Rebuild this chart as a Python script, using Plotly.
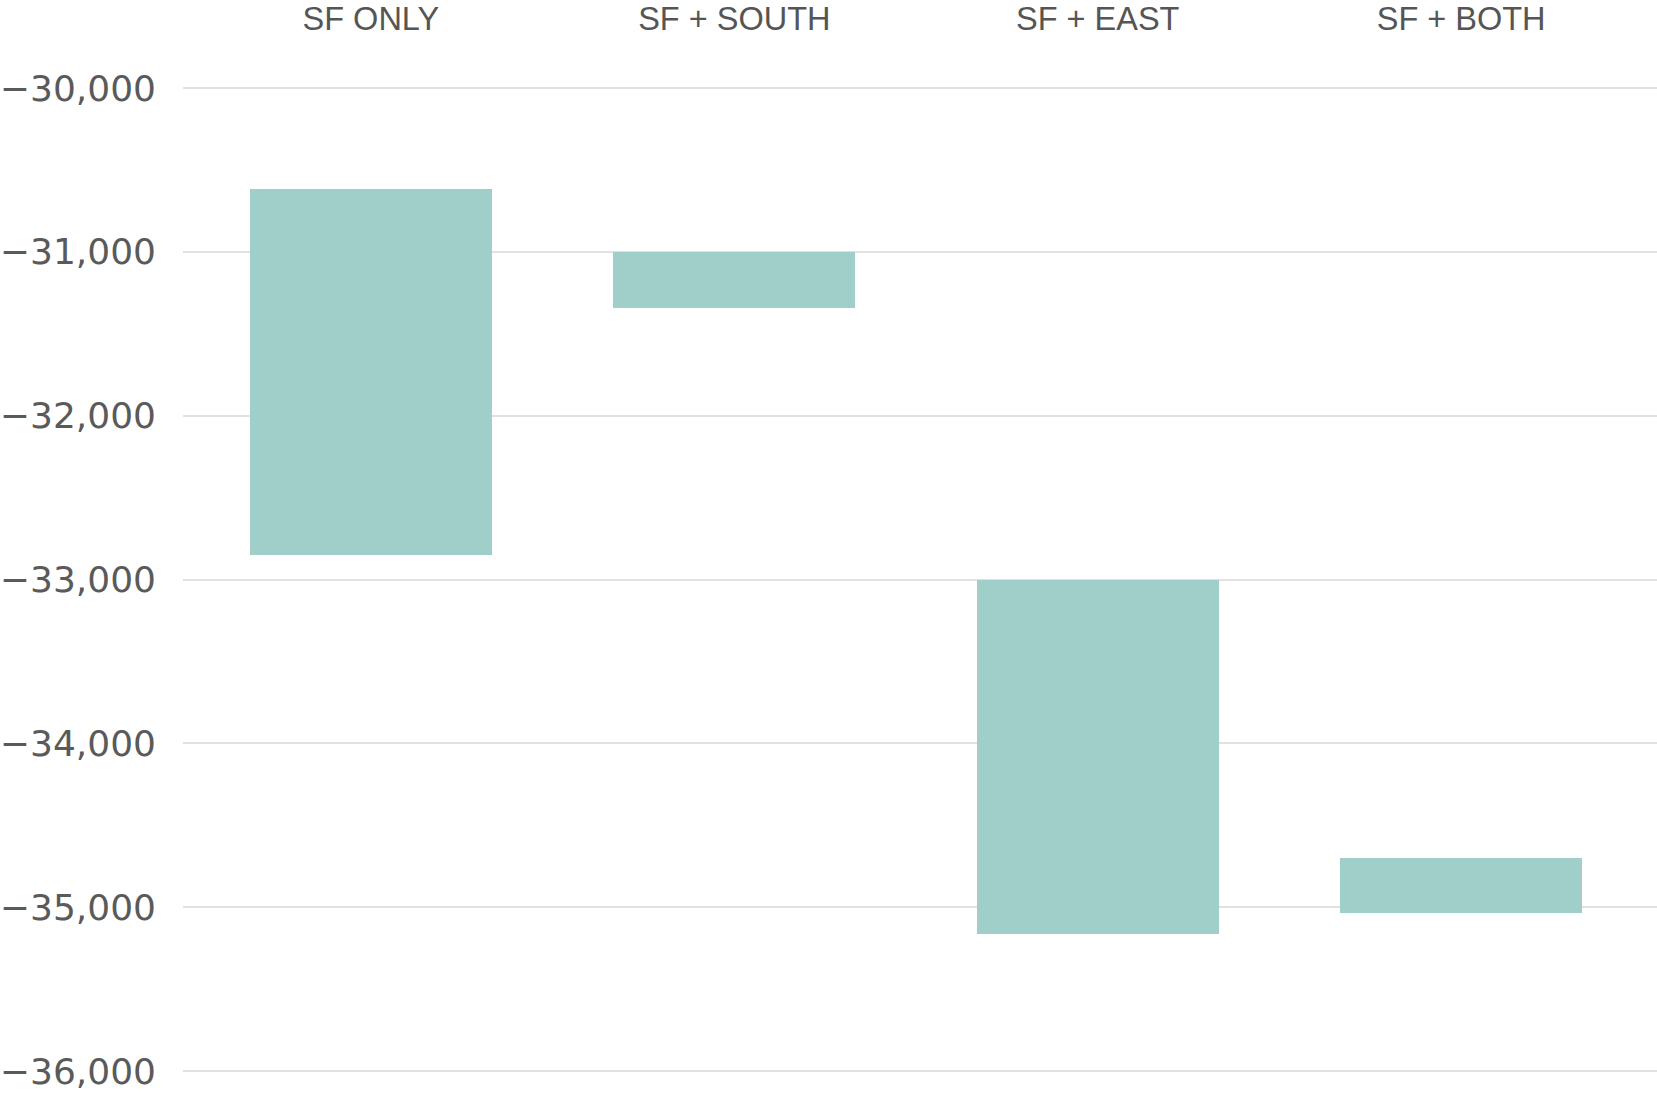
import plotly.graph_objects as go

categories = ["SF ONLY", "SF + SOUTH", "SF + EAST", "SF + BOTH"]
bar_top = [-30618, -31000, -33000, -34697]
bar_bottom = [-32848, -31344, -35165, -35038]
y_ticks = [-30000, -31000, -32000, -33000, -34000, -35000, -36000]
y_tick_labels = ["\u221230,000", "\u221231,000", "\u221232,000", "\u221233,000",
                 "\u221234,000", "\u221235,000", "\u221236,000"]

lengths = [t - b for t, b in zip(bar_top, bar_bottom)]

fig = go.Figure()
fig.add_trace(go.Bar(
    x=categories,
    y=lengths,
    base=bar_bottom,
    width=0.665,
    marker=dict(color="#a0cfca", line=dict(width=0)),
    hoverinfo="skip",
))

fig.update_layout(
    width=1657,
    height=1094,
    margin=dict(l=182, r=0, t=43, b=21),
    paper_bgcolor="white",
    plot_bgcolor="white",
    showlegend=False,
    bargap=0,
    xaxis=dict(
        side="top",
        range=[-0.517, 3.539],
        showgrid=False,
        showline=False,
        zeroline=False,
        ticks="",
        tickfont=dict(family="Liberation Sans", size=32.5, color="#555555"),
        ticklabelstandoff=10,
    ),
    yaxis=dict(
        range=[-36012, -29750],
        tickvals=y_ticks,
        ticktext=y_tick_labels,
        showgrid=True,
        gridcolor="#e1e1e1",
        gridwidth=1.5,
        zeroline=False,
        showline=False,
        ticks="",
        tickfont=dict(family="DejaVu Sans", size=36, color="#5a5a5a"),
        ticklabelstandoff=26,
    ),
)

fig.write_html(
    "out.html",
    config={"displayModeBar": False},
    post_script="document.body.style.margin='0';document.body.style.overflow='hidden';",
)
